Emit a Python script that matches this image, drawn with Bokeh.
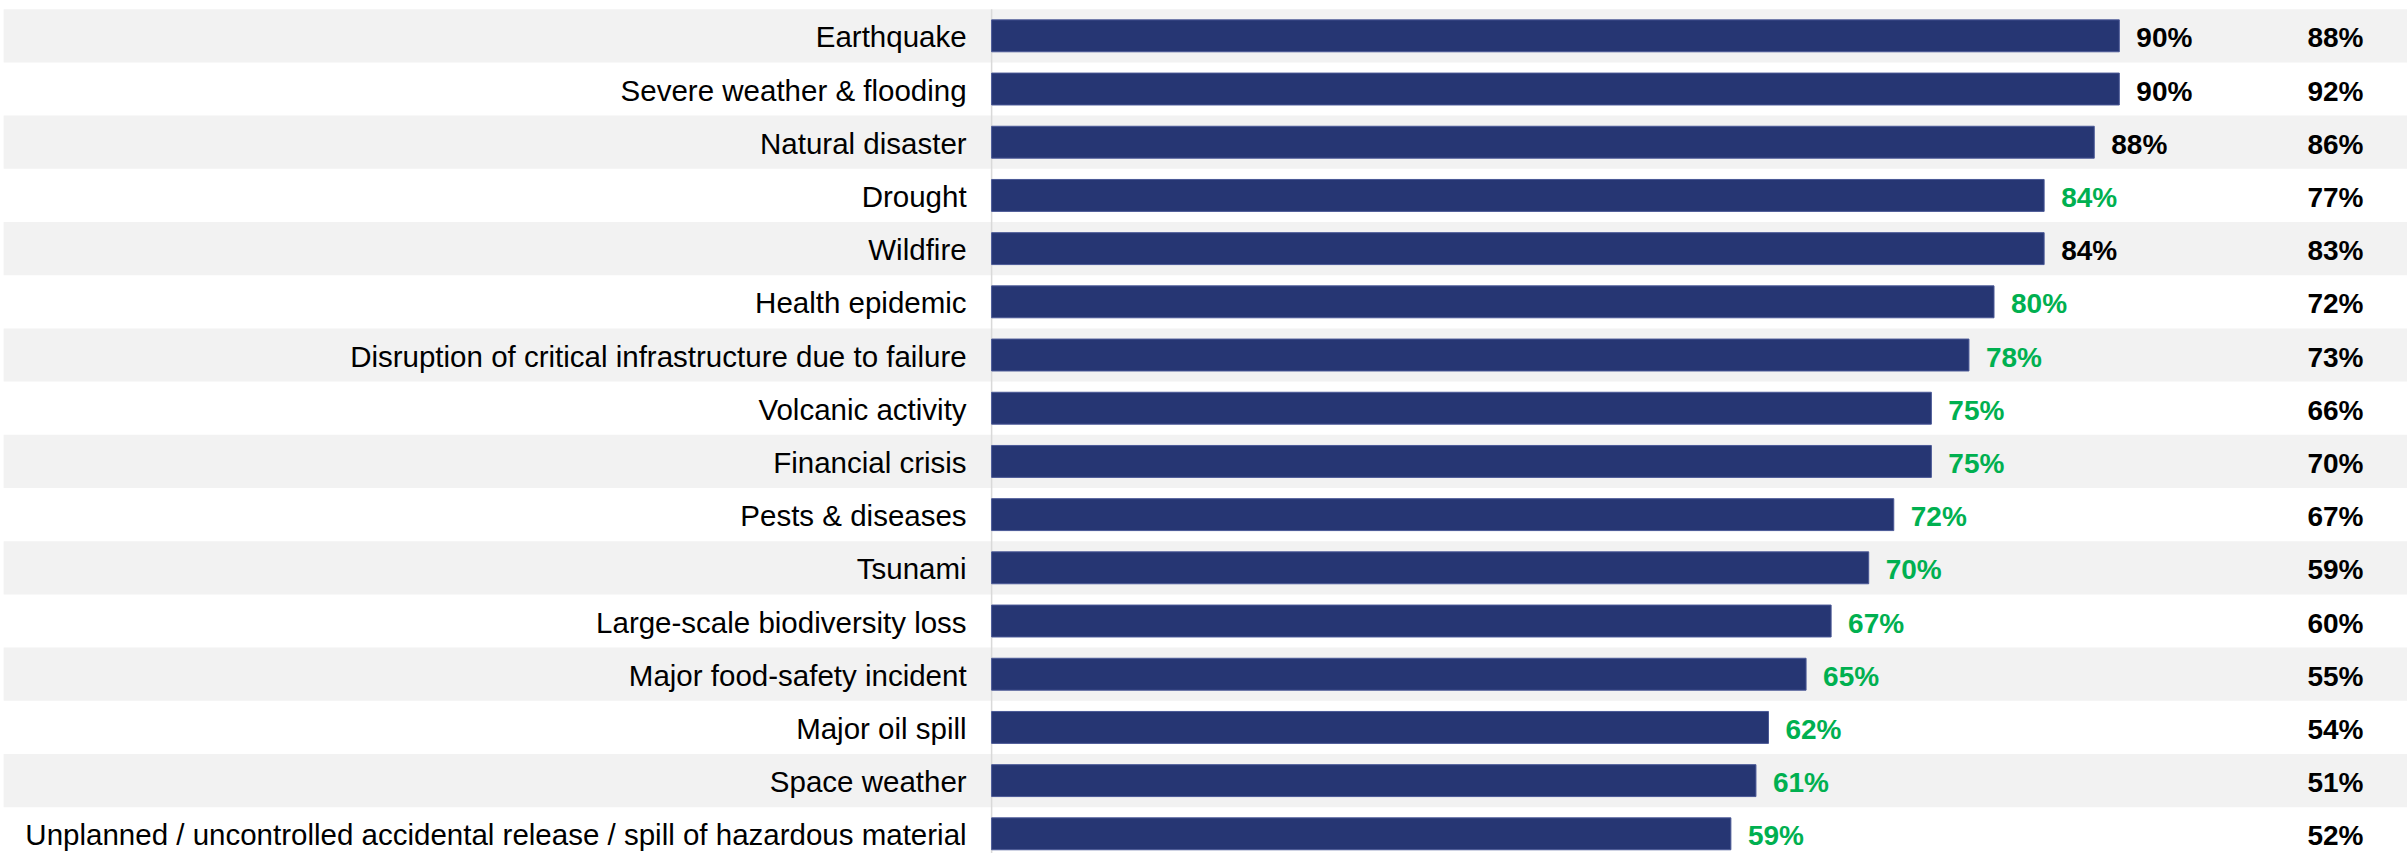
from bokeh.plotting import figure
from bokeh.models import ColumnDataSource, Range1d
from bokeh.core.properties import value
from bokeh.embed import file_html
from bokeh.resources import INLINE

# Hazards, ranked top to bottom
categories = [
    "Earthquake",
    "Severe weather & flooding",
    "Natural disaster",
    "Drought",
    "Wildfire",
    "Health epidemic",
    "Disruption of critical infrastructure due to failure",
    "Volcanic activity",
    "Financial crisis",
    "Pests & diseases",
    "Tsunami",
    "Large-scale biodiversity loss",
    "Major food-safety incident",
    "Major oil spill",
    "Space weather",
    "Unplanned / uncontrolled accidental release / spill of hazardous material",
]
# Current share (%) shown as bars
current = [90, 90, 88, 84, 84, 80, 78, 75, 75, 72, 70, 67, 65, 62, 61, 59]
# Comparison share (%) shown in the right-hand column
comparison = [88, 92, 86, 77, 83, 72, 73, 66, 70, 67, 59, 60, 55, 54, 51, 52]
# Whether the bar value is flagged as a notable increase
highlight = [False, False, False, True, False, True, True, True, True, True,
             True, True, True, True, True, True]

NAVY = "#263673"
GREEN = "#00b050"
STRIPE = "#f2f2f2"
FONT = value("Liberation Sans")

n = len(categories)
rows = list(range(n))

src = ColumnDataSource(dict(
    y=rows,
    cat=categories,
    cur=current,
    cur_lbl=[f"{v}%" for v in current],
    cmp_lbl=[f"{v}%" for v in comparison],
    col=[GREEN if h else "#000000" for h in highlight],
))

X0, X1 = -79.1, 113.0
p = figure(
    width=2407, height=853,
    x_range=Range1d(X0, X1),
    y_range=Range1d(15.37, -0.664),
    x_axis_type=None, y_axis_type=None,
    toolbar_location=None, output_backend="svg",
    min_border=0, outline_line_color=None,
)
p.xgrid.visible = False
p.ygrid.visible = False
p.background_fill_color = "white"
p.border_fill_color = "white"

# Alternating row bands
band_rows = [i for i in rows if i % 2 == 0]
p.hbar(y=band_rows, left=X0 + 0.25, right=X1, height=1.0,
       fill_color=STRIPE, line_color=None)

# Baseline at zero
p.segment(x0=[0], y0=[-0.5], x1=[0], y1=[n - 0.5],
          line_color="#d9d9d9", line_width=1.5)

# Bars
p.hbar(y="y", left=0, right="cur", height=0.6, source=src,
       fill_color=NAVY, line_color="#4a5896", line_width=1)

# Category labels
p.text(x=0, y="y", text="cat", source=src, x_offset=-25, y_offset=1,
       text_align="right", text_baseline="middle",
       text_font=FONT, text_font_size="29.5px", text_color="#000000")

# Bar value labels
p.text(x="cur", y="y", text="cur_lbl", source=src, x_offset=17, y_offset=2,
       text_align="left", text_baseline="middle",
       text_font=FONT, text_font_size="28px", text_font_style="bold",
       text_color="col")

# Comparison column
p.text(x=X1, y="y", text="cmp_lbl", source=src, x_offset=-44, y_offset=2,
       text_align="right", text_baseline="middle",
       text_font=FONT, text_font_size="28px", text_font_style="bold",
       text_color="#000000")

open("out.html", "w").write(file_html(p, INLINE))
